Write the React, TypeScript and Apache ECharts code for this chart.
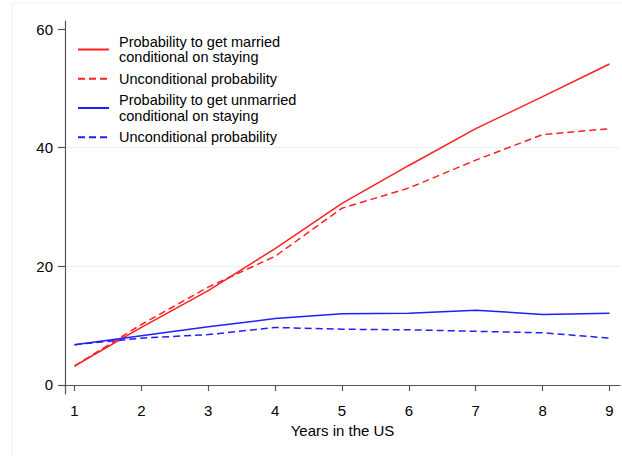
import React, { useEffect, useRef } from "react";
import * as echarts from "echarts";

const years = [1, 2, 3, 4, 5, 6, 7, 8, 9];
const marriedCond = [3.2, 9.7, 15.9, 23.0, 30.6, 37.0, 43.2, 48.6, 54.1];
const marriedUncond = [3.2, 10.2, 16.5, 21.7, 29.8, 33.2, 37.9, 42.2, 43.2];
const unmarriedCond = [6.8, 8.3, 9.8, 11.2, 12.0, 12.1, 12.6, 11.9, 12.1];
const unmarriedUncond = [6.8, 7.9, 8.5, 9.7, 9.4, 9.3, 9.05, 8.8, 7.9];

const yTicks = [0, 20, 40, 60];
const xTicks = [1, 2, 3, 4, 5, 6, 7, 8, 9];

const seriesNames = [
  "Probability to get married\nconditional on staying",
  "Unconditional probability ",
  "Probability to get unmarried\nconditional on staying",
  "Unconditional probability",
];

const RED = "#ff1f1f";
const BLUE = "#1f1fff";
const FONT = "'Liberation Sans', Arial, Helvetica, sans-serif";

const pairs = (ys: number[]) => years.map((x, i) => [x, ys[i]]);

export default function App() {
  const ref = useRef<HTMLDivElement>(null);
  useEffect(() => {
    if (!ref.current) return;
    const chart = echarts.init(ref.current, null, { renderer: "svg" });
    const mk = (name: string, data: number[], color: string, dashed: boolean) => ({
      name,
      type: "line",
      data: pairs(data),
      symbol: "none",
      showSymbol: false,
      smooth: false,
      itemStyle: { color },
      lineStyle: { color, width: 1.5, type: dashed ? [7, 4] : "solid" },
    });
    chart.setOption({
      animation: false,
      backgroundColor: "#ffffff",
      textStyle: { fontFamily: FONT },
      graphic: [
        {
          type: "rect",
          shape: { x: 12, y: 3, width: 640, height: 480 },
          style: { fill: "none", stroke: "#efefef", lineWidth: 1 },
          silent: true,
          z: -10,
        },
      ],
      grid: { left: 65, right: 2, top: 21, bottom: 62, containLabel: false },
      legend: {
        orient: "vertical",
        left: 77,
        top: 34,
        padding: 0,
        itemGap: 6,
        itemWidth: 31,
        itemHeight: 14,
        selectedMode: false,
        data: seriesNames,
        itemStyle: { opacity: 0 },
        textStyle: {
          fontFamily: FONT,
          fontSize: 14.5,
          lineHeight: 15.5,
          color: "#000",
          padding: [0, 0, 0, 5],
        },
      },
      xAxis: {
        type: "value",
        min: 0.858,
        max: 9.157,
        minInterval: 1,
        maxInterval: 1,
        name: "Years in the US",
        nameLocation: "middle",
        nameGap: 27,
        nameTextStyle: { fontFamily: FONT, fontSize: 15, color: "#000" },
        axisLine: { show: true, lineStyle: { color: "#555", width: 1.2 } },
        axisTick: {
          show: true,
          inside: false,
          length: 6,
          customValues: xTicks,
          lineStyle: { color: "#555", width: 1.2 },
        },
        axisLabel: {
          customValues: xTicks,
          margin: 9,
          fontFamily: FONT,
          fontSize: 15,
          color: "#000",
        },
        splitLine: { show: false },
      },
      yAxis: {
        type: "value",
        min: -1.517,
        max: 61.35,
        minInterval: 20,
        maxInterval: 20,
        axisLine: { show: true, lineStyle: { color: "#555", width: 1.2 } },
        axisTick: {
          show: true,
          inside: false,
          length: 7,
          customValues: yTicks,
          lineStyle: { color: "#555", width: 1.2 },
        },
        axisLabel: {
          customValues: yTicks,
          margin: 12,
          fontFamily: FONT,
          fontSize: 15,
          color: "#000",
        },
        splitLine: {
          show: true,
          showMinLine: false,
          showMaxLine: false,
          lineStyle: { color: "#e8f0f1", width: 1.2 },
        },
      },
      series: [
        mk(seriesNames[0], marriedCond, RED, false),
        mk(seriesNames[1], marriedUncond, RED, true),
        mk(seriesNames[2], unmarriedCond, BLUE, false),
        mk(seriesNames[3], unmarriedUncond, BLUE, true),
      ],
    });
    return () => chart.dispose();
  }, []);
  return (
    <div
      ref={ref}
      style={{ position: "absolute", left: 0, top: 0, width: 622, height: 456 }}
    />
  );
}
